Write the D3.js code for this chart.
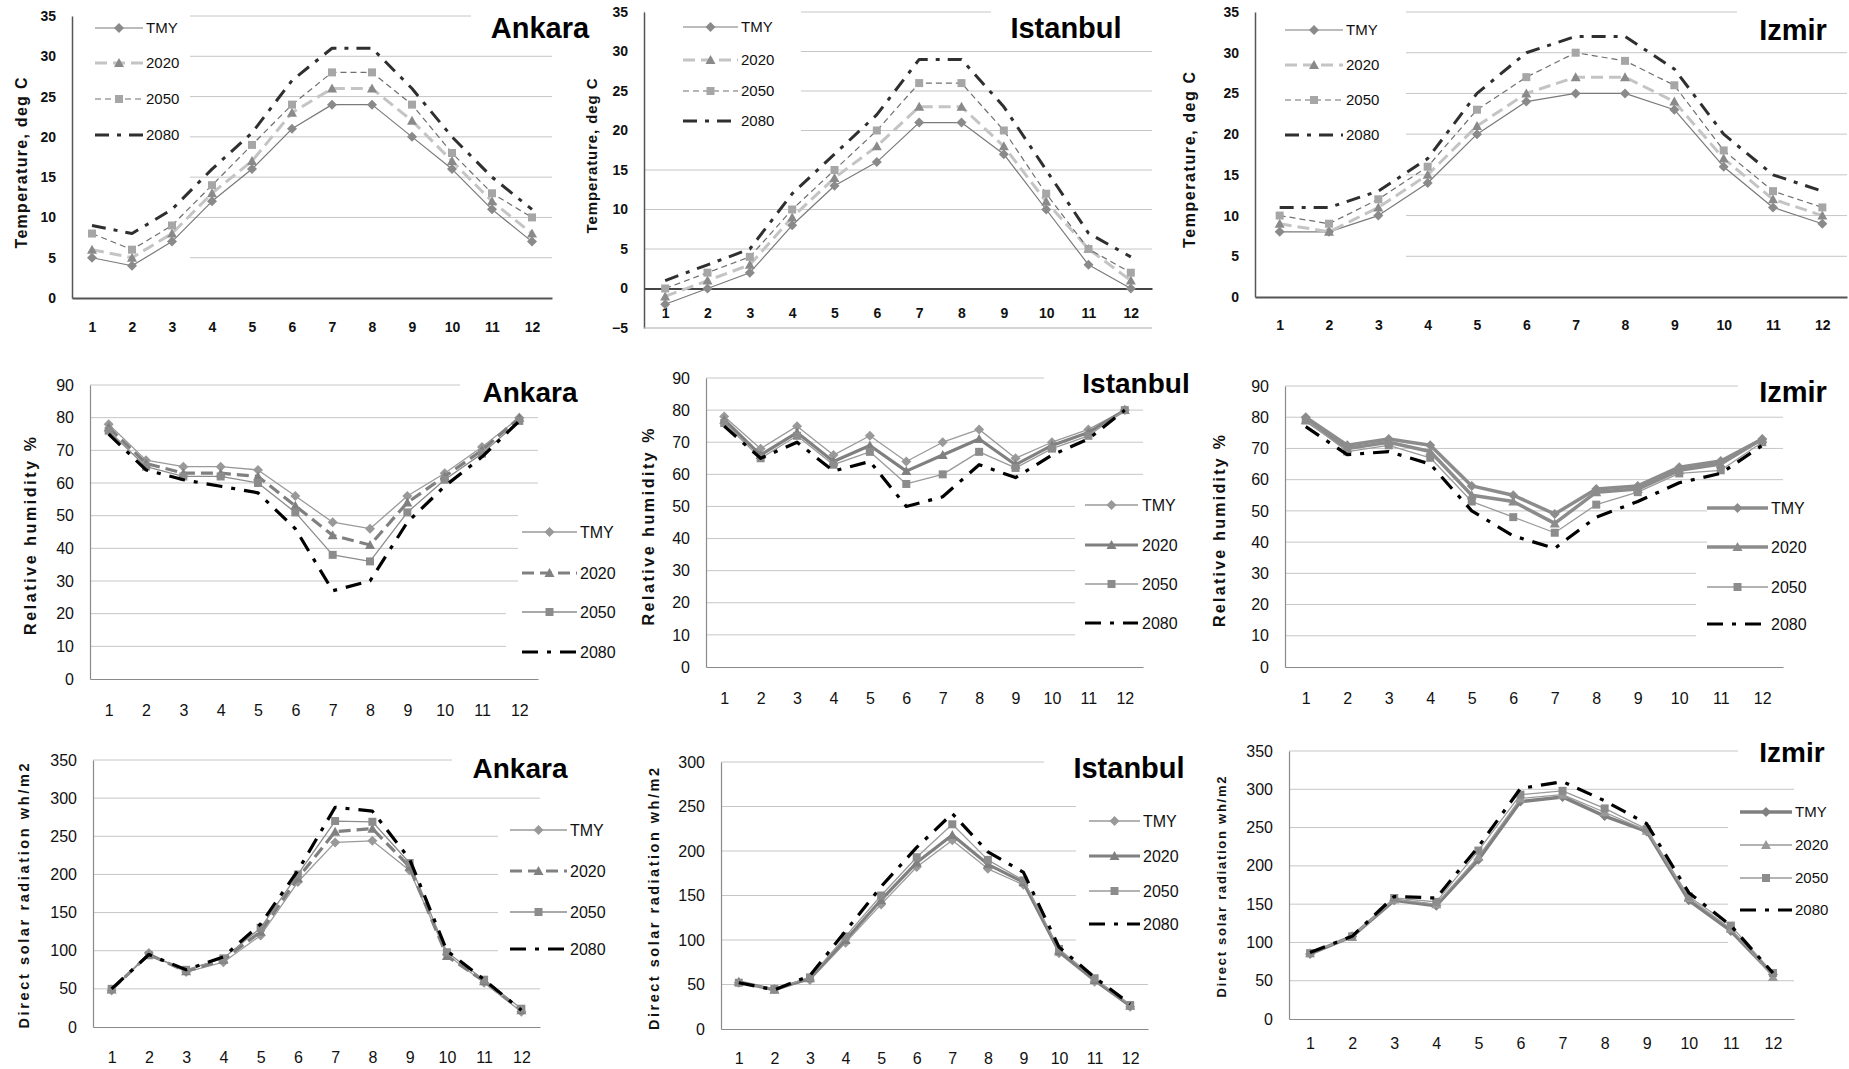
<!DOCTYPE html>
<html>
<head>
<meta charset="utf-8">
<script src="https://cdn.jsdelivr.net/npm/d3@7"></script>
<style>
  body { margin: 0; background: #fff; }
  svg { display: block; }
</style>
</head>
<body>
<svg id="chart" width="1849" height="1069"></svg>
<script>
// ---- data ----
const months = [1, 2, 3, 4, 5, 6, 7, 8, 9, 10, 11, 12];
const seriesNames = ['TMY', '2020', '2050', '2080'];

const tempTicks = [0, 5, 10, 15, 20, 25, 30, 35];
const tempTicksNeg = [-5, 0, 5, 10, 15, 20, 25, 30, 35];
const rhTicks = [0, 10, 20, 30, 40, 50, 60, 70, 80, 90];
const solarTicks350 = [0, 50, 100, 150, 200, 250, 300, 350];
const solarTicks300 = [0, 50, 100, 150, 200, 250, 300];

// rows: TMY, 2020, 2050, 2080
const ankaraTemp = [
  [5, 4, 7, 12, 16, 21, 24, 24, 20, 16, 11, 7],
  [6, 5, 8, 13, 17, 23, 26, 26, 22, 17, 12, 8],
  [8, 6, 9, 14, 19, 24, 28, 28, 24, 18, 13, 10],
  [9, 8, 11, 16, 20.5, 27, 31, 31, 26, 20, 15, 11]
];
const istanbulTemp = [
  [-2, 0, 2, 8, 13, 16, 21, 21, 17, 10, 3, 0],
  [-1, 1, 3, 9, 14, 18, 23, 23, 18, 11, 5, 1],
  [0, 2, 4, 10, 15, 20, 26, 26, 20, 12, 5, 2],
  [1, 3, 5, 12, 17, 22, 29, 29, 23, 15, 7, 4]
];
const izmirTemp = [
  [8, 8, 10, 14, 20, 24, 25, 25, 23, 16, 11, 9],
  [9, 8, 11, 15, 21, 25, 27, 27, 24, 17, 12, 10],
  [10, 9, 12, 16, 23, 27, 30, 29, 26, 18, 13, 11],
  [11, 11, 13, 17, 25, 30, 32, 32, 28, 20, 15, 13]
];
const ankaraRH = [
  [78, 67, 65, 65, 64, 56, 48, 46, 56, 63, 71, 80],
  [77, 66, 63, 63, 62, 53, 44, 41, 54, 62, 70, 80],
  [76, 65, 62, 62, 60, 51, 38, 36, 51, 61, 69, 79],
  [75, 64, 61, 59, 57, 46, 27, 30, 48, 59, 68, 79]
];
const istanbulRH = [
  [78, 68, 75, 66, 72, 64, 70, 74, 65, 70, 74, 80],
  [77, 66, 73, 64, 69, 61, 66, 71, 63, 69, 73, 80],
  [76, 65, 72, 63, 67, 57, 60, 67, 62, 68, 72, 80],
  [75, 65, 70, 61, 64, 50, 53, 63, 59, 66, 71, 80]
];
const izmirRH = [
  [80, 71, 73, 71, 58, 55, 49, 57, 58, 64, 66, 73],
  [79, 70, 72, 69, 55, 53, 46, 56, 57, 63, 65, 73],
  [79, 69, 71, 67, 53, 48, 43, 52, 56, 62, 63, 72],
  [77, 68, 69, 65, 50, 42, 38, 48, 53, 59, 62, 71]
];
const ankaraSolar = [
  [48, 97, 72, 85, 120, 190, 242, 244, 205, 95, 58, 20],
  [49, 95, 73, 88, 125, 195, 256, 260, 210, 93, 60, 22],
  [50, 94, 75, 90, 130, 200, 270, 269, 215, 98, 62, 24],
  [50, 95, 75, 92, 135, 205, 288, 283, 220, 100, 62, 22]
];
const istanbulSolar = [
  [52, 45, 55, 97, 140, 182, 212, 180, 162, 85, 53, 25],
  [53, 44, 57, 100, 145, 187, 218, 185, 165, 87, 55, 26],
  [52, 45, 58, 104, 150, 193, 230, 190, 167, 90, 57, 27],
  [52, 44, 60, 110, 160, 204, 242, 199, 176, 92, 58, 28]
];
const izmirSolar = [
  [85, 108, 155, 148, 208, 284, 290, 265, 245, 155, 115, 58],
  [86, 107, 156, 150, 212, 288, 293, 270, 246, 158, 118, 55],
  [86, 108, 158, 153, 220, 293, 298, 275, 248, 160, 122, 60],
  [87, 108, 160, 158, 225, 301, 310, 285, 255, 165, 122, 60]
];

// ---- line styles ----
const dashDot = '16,9,4,9';
const tempStyles = [
  {stroke: '#7a7a7a', width: 1.2, dash: null, marker: 'diamond', fill: '#8a8a8a'},
  {stroke: '#c4c4c4', width: 3, dash: '12,6', marker: 'triangle', fill: '#8a8a8a'},
  {stroke: '#6f6f6f', width: 1.2, dash: '6,4', marker: 'square', fill: '#a6a6a6'},
  {stroke: '#2f2f2f', width: 3, dash: '14,8,4,8', marker: null}
];
const ankaraStyles = [
  {stroke: '#9a9a9a', width: 1.3, dash: null, marker: 'diamond', fill: '#999'},
  {stroke: '#808080', width: 3.2, dash: '12,6', marker: 'triangle', fill: '#808080'},
  {stroke: '#8c8c8c', width: 1.3, dash: null, marker: 'square', fill: '#8c8c8c'},
  {stroke: '#000', width: 3.2, dash: dashDot, marker: null}
];
const istanbulStyles = [
  {stroke: '#9a9a9a', width: 1.3, dash: null, marker: 'diamond', fill: '#999'},
  {stroke: '#808080', width: 3.2, dash: null, marker: 'triangle', fill: '#808080'},
  {stroke: '#9a9a9a', width: 1.3, dash: null, marker: 'square', fill: '#8c8c8c'},
  {stroke: '#000', width: 3.2, dash: dashDot, marker: null}
];
const izmirRHStyles = [
  {stroke: '#8c8c8c', width: 3.5, dash: null, marker: 'diamond', fill: '#8c8c8c'},
  {stroke: '#8c8c8c', width: 3.5, dash: null, marker: 'triangle', fill: '#8c8c8c'},
  {stroke: '#9a9a9a', width: 1.3, dash: null, marker: 'square', fill: '#8c8c8c'},
  {stroke: '#000', width: 3.2, dash: dashDot, marker: null}
];
const izmirSolarStyles = [
  {stroke: '#808080', width: 3.5, dash: null, marker: 'diamond', fill: '#808080'},
  {stroke: '#9a9a9a', width: 1.3, dash: null, marker: 'triangle', fill: '#999'},
  {stroke: '#9a9a9a', width: 1.3, dash: null, marker: 'square', fill: '#8c8c8c'},
  {stroke: '#000', width: 3.2, dash: dashDot, marker: null}
];

const tempLabel = 'Temperature, deg C';
const rhLabel = 'Relative humidity %';
const solarLabel = 'Direct solar radiation  wh/m2';

// ---- panel layout ----
const panels = [
  {data: ankaraTemp, styles: tempStyles, ticks: tempTicks, x0: 72, x1: 552, yb: 298, yt: 16, gx: 190,
   masks: [[471, 8, 90, 14]], title: 'Ankara', tx: 540, ty: 38, tsize: 29,
   leg: {x1: 95, x2: 143, tx: 146, ys: [28, 63, 99, 135], size: 15},
   yl: {x: 21, y: 163, len: 171, size: 16, text: tempLabel}, monthY: 327, bold: true},
  {data: istanbulTemp, styles: tempStyles, ticks: tempTicksNeg, x0: 644, x1: 1152, yb: 328, yt: 12,
   masks: [[645, 4, 156, 134], [991, 4, 165, 14]], title: 'Istanbul', tx: 1066, ty: 38, tsize: 29,
   leg: {x1: 683, x2: 738, tx: 741, ys: [27, 60, 91, 121], size: 15},
   yl: {x: 592, y: 156, len: 155, size: 15, text: tempLabel}, monthY: 313, bold: true, darkZero: true},
  {data: izmirTemp, styles: tempStyles, ticks: tempTicks, x0: 1255, x1: 1847, yb: 297, yt: 12, gx: 1406,
   masks: [[1737, 4, 112, 14]], title: 'Izmir', tx: 1793, ty: 40, tsize: 29,
   leg: {x1: 1285, x2: 1343, tx: 1346, ys: [30, 65, 100, 135], size: 15},
   yl: {x: 1189, y: 160, len: 176, size: 16, text: tempLabel}, monthY: 325, bold: true},

  {data: ankaraRH, styles: ankaraStyles, ticks: rhTicks, x0: 90, x1: 538, yb: 679, yt: 385,
   masks: [[460, 378, 85, 14], [518, 505, 27, 85], [506, 600, 39, 55]], title: 'Ankara', tx: 530, ty: 402, tsize: 28,
   leg: {x1: 522, x2: 577, tx: 580, ys: [532, 573, 612, 652], size: 16},
   yl: {x: 30, y: 536, len: 198, size: 16, text: rhLabel}, monthY: 710},
  {data: istanbulRH, styles: istanbulStyles, ticks: rhTicks, x0: 706, x1: 1143, yb: 667, yt: 378,
   masks: [[1044, 371, 105, 14], [1075, 495, 74, 150]], title: 'Istanbul', tx: 1136, ty: 393, tsize: 28,
   leg: {x1: 1085, x2: 1138, tx: 1142, ys: [505, 545, 584, 623], size: 16},
   yl: {x: 648, y: 527, len: 197, size: 16, text: rhLabel}, monthY: 698},
  {data: izmirRH, styles: izmirRHStyles, ticks: rhTicks, x0: 1285, x1: 1783, yb: 667, yt: 386,
   masks: [[1738, 379, 50, 14], [1707, 500, 80, 50], [1696, 560, 91, 85]], title: 'Izmir', tx: 1793, ty: 402, tsize: 29,
   leg: {x1: 1707, x2: 1768, tx: 1771, ys: [508, 547, 587, 624], size: 16},
   yl: {x: 1219, y: 531, len: 192, size: 16, text: rhLabel}, monthY: 698},

  {data: ankaraSolar, styles: ankaraStyles, ticks: solarTicks350, x0: 93, x1: 540, yb: 1027, yt: 760,
   masks: [[452, 753, 92, 14], [498, 825, 46, 135]], title: 'Ankara', tx: 520, ty: 778, tsize: 28,
   leg: {x1: 510, x2: 567, tx: 570, ys: [830, 871, 912, 949], size: 16},
   yl: {x: 24, y: 896, len: 265, size: 14.5, text: solarLabel}, monthY: 1057},
  {data: istanbulSolar, styles: istanbulStyles, ticks: solarTicks300, x0: 721, x1: 1148, yb: 1029, yt: 762,
   masks: [[1044, 755, 110, 14], [1076, 800, 78, 145]], title: 'Istanbul', tx: 1129, ty: 778, tsize: 29,
   leg: {x1: 1089, x2: 1140, tx: 1143, ys: [821, 856, 891, 924], size: 16},
   yl: {x: 654, y: 899, len: 262, size: 14.5, text: solarLabel}, monthY: 1058},
  {data: izmirSolar, styles: izmirSolarStyles, ticks: solarTicks350, x0: 1289, x1: 1794, yb: 1019, yt: 751,
   masks: [[1738, 745, 60, 12], [1728, 820, 70, 130]], title: 'Izmir', tx: 1792, ty: 762, tsize: 28,
   leg: {x1: 1740, x2: 1792, tx: 1795, ys: [812, 845, 878, 910], size: 15},
   yl: {x: 1221, y: 887, len: 221, size: 13, text: solarLabel}, monthY: 1043}
];

const svg = d3.select('#chart');
svg.append('rect').attr('width', 1849).attr('height', 1069).attr('fill', '#fff');

const sans = '"Liberation Sans", Arial, sans-serif';

function markerPath(type) {
  if (type === 'diamond') return 'M0,-5L5,0L0,5L-5,0Z';
  if (type === 'triangle') return 'M0,-5L5,4L-5,4Z';
  if (type === 'square') return 'M-4,-4H4V4H-4Z';
  return null;
}

function drawPanel(p) {
  const g = svg.append('g');
  const x = d3.scalePoint().domain(months).range([p.x0, p.x1]).padding(0.5);
  const y = d3.scaleLinear().domain([p.ticks[0], p.ticks[p.ticks.length - 1]]).range([p.yb, p.yt]);
  const axisAt = p.darkZero ? 0 : p.ticks[0];
  const gx = p.gx || p.x0;

  // gridlines
  g.selectAll('line.grid')
    .data(p.ticks.filter(t => t !== axisAt))
    .enter().append('line')
    .attr('x1', gx).attr('x2', p.x1)
    .attr('y1', d => y(d)).attr('y2', d => y(d))
    .attr('stroke', '#c6c6c6').attr('stroke-width', 1);

  // legend / title boxes hide parts of the gridlines
  p.masks.forEach(m => {
    g.append('rect').attr('x', m[0]).attr('y', m[1]).attr('width', m[2]).attr('height', m[3]).attr('fill', '#fff');
  });

  const tickFont = p.bold ? 14 : 16;
  const axisColor = p.bold ? '#555' : '#8a8a8a';

  const yAxis = g.append('g')
    .attr('transform', 'translate(' + p.x0 + ',0)')
    .call(d3.axisLeft(y).tickValues(p.ticks).tickSize(0).tickPadding(16).tickFormat(d3.format('d')));
  yAxis.select('.domain').attr('stroke', axisColor).attr('stroke-width', p.bold ? 1.5 : 1.2);
  yAxis.selectAll('text')
    .attr('font-family', sans).attr('font-size', tickFont)
    .attr('font-weight', p.bold ? 'bold' : 'normal').attr('fill', '#111');

  const xAxis = g.append('g')
    .attr('transform', 'translate(0,' + y(axisAt) + ')')
    .call(d3.axisBottom(x).tickSize(0));
  xAxis.select('.domain').attr('stroke', p.darkZero ? '#444' : axisColor).attr('stroke-width', p.bold ? 1.8 : 1.2);
  xAxis.selectAll('text')
    .attr('y', p.monthY - y(axisAt)).attr('dy', '0.35em')
    .attr('font-family', sans).attr('font-size', tickFont)
    .attr('font-weight', p.bold ? 'bold' : 'normal').attr('fill', '#111');
  if (p.darkZero) {
    g.append('line').attr('x1', p.x0).attr('x2', p.x1)
      .attr('y1', y(p.ticks[0])).attr('y2', y(p.ticks[0]))
      .attr('stroke', '#c6c6c6');
  }

  const line = d3.line().x((d, i) => x(months[i])).y(d => y(d));

  p.data.forEach((vals, si) => {
    const s = p.styles[si];
    g.append('path')
      .attr('d', line(vals))
      .attr('fill', 'none')
      .attr('stroke', s.stroke)
      .attr('stroke-width', s.width)
      .attr('stroke-dasharray', s.dash)
      .attr('stroke-linejoin', 'round');
    if (s.marker) {
      g.selectAll(null).data(vals).enter().append('path')
        .attr('d', markerPath(s.marker))
        .attr('transform', (d, i) => 'translate(' + x(months[i]) + ',' + y(d) + ')')
        .attr('fill', s.fill);
    }
  });

  // legend
  seriesNames.forEach((name, si) => {
    const s = p.styles[si];
    const ly = p.leg.ys[si];
    g.append('line')
      .attr('x1', p.leg.x1).attr('x2', p.leg.x2).attr('y1', ly).attr('y2', ly)
      .attr('stroke', s.stroke).attr('stroke-width', s.width).attr('stroke-dasharray', s.dash);
    if (s.marker) {
      g.append('path').attr('d', markerPath(s.marker))
        .attr('transform', 'translate(' + (p.leg.x1 + p.leg.x2) / 2 + ',' + ly + ')')
        .attr('fill', s.fill);
    }
    g.append('text')
      .attr('x', p.leg.tx).attr('y', ly).attr('dy', '0.35em')
      .attr('font-family', sans).attr('font-size', p.leg.size).attr('fill', '#111')
      .text(name);
  });

  // city title
  g.append('text')
    .attr('x', p.tx).attr('y', p.ty).attr('text-anchor', 'middle')
    .attr('font-family', sans).attr('font-weight', 'bold').attr('font-size', p.tsize)
    .attr('fill', '#000').text(p.title);

  // y axis title
  g.append('text')
    .attr('transform', 'translate(' + p.yl.x + ',' + p.yl.y + ') rotate(-90)')
    .attr('text-anchor', 'middle').attr('dy', '0.35em')
    .attr('font-family', sans).attr('font-weight', 'bold')
    .attr('font-size', p.yl.size).attr('fill', '#111')
    .attr('textLength', p.yl.len).attr('lengthAdjust', 'spacing')
    .text(p.yl.text);
}

panels.forEach(drawPanel);
</script>
</body>
</html>
